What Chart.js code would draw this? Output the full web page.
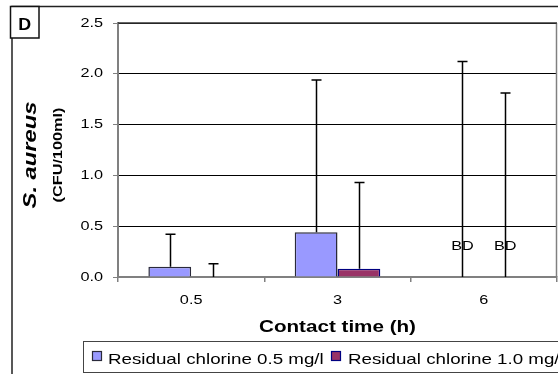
<!DOCTYPE html>
<html>
<head>
<meta charset="utf-8">
<script src="https://cdn.jsdelivr.net/npm/chart.js@4/dist/chart.umd.min.js"></script>
<style>
  html, body { margin: 0; padding: 0; background: #fff; }
  canvas { display: block; }
</style>
</head>
<body>
<canvas id="chart" width="558" height="374"></canvas>
<script>
// Contact time categories (hours)
const contactTimes = ['0.5', '3', '6'];

// Series names
const seriesNames = ['Residual chlorine 0.5 mg/l', 'Residual chlorine 1.0 mg/l'];

// Mean S. aureus counts (CFU/100ml)
const chlorine05Means = [0.10, 0.44, 0];
const chlorine10Means = [0, 0.08, 0];

// Upper error (standard deviation) for each mean
const chlorine05Errors = [0.32, 1.50, 2.12];
const chlorine10Errors = [0.13, 0.85, 1.81];

// Below detection flags
const chlorine05BD = [false, false, true];
const chlorine10BD = [false, false, true];

// Y axis ticks
const yTicks = [0, 0.5, 1.0, 1.5, 2.0, 2.5];

const FONT = "'Liberation Sans', Arial, Helvetica, sans-serif";
const TEXT_STRETCH = 1.25;   // glyphs are drawn wide along their baseline

const fillColors = ['#9999FF', '#993366'];
const borderColors = ['#2a2a3a', '#000080'];

// Widen every glyph run along its own baseline
const wideText = {
  id: 'wideText',
  beforeInit(chart) {
    const ctx = chart.ctx;
    const orig = ctx.fillText.bind(ctx);
    ctx.fillText = function (text, x, y, maxWidth) {
      ctx.save();
      ctx.translate(x, y);
      ctx.scale(TEXT_STRETCH, 1);
      orig(text, 0, 0);
      ctx.restore();
    };
  }
};

// White page with the outer frame lines
const pageFrame = {
  id: 'pageFrame',
  beforeDraw(chart) {
    const ctx = chart.ctx;
    ctx.save();
    ctx.fillStyle = '#fff';
    ctx.fillRect(0, 0, chart.width, chart.height);
    ctx.strokeStyle = '#222';
    ctx.lineWidth = 1.5;
    ctx.beginPath();
    ctx.moveTo(chart.width + 2, 6.5);
    ctx.lineTo(12, 6.5);
    ctx.lineTo(12, chart.height + 2);
    ctx.stroke();
    ctx.restore();
  }
};

// Error bars and "BD" labels on top of the bars
const errorBars = {
  id: 'errorBars',
  afterDatasetsDraw(chart) {
    const ctx = chart.ctx;
    const yScale = chart.scales.y;
    const errs = [chlorine05Errors, chlorine10Errors];
    const bds = [chlorine05BD, chlorine10BD];
    ctx.save();
    chart.data.datasets.forEach((ds, i) => {
      const meta = chart.getDatasetMeta(i);
      meta.data.forEach((bar, j) => {
        const mean = ds.data[j];
        const yBase = yScale.getPixelForValue(mean);
        if (bds[i][j]) {
          ctx.fillStyle = '#000';
          ctx.font = '13px ' + FONT;
          ctx.textAlign = 'center';
          ctx.textBaseline = 'middle';
          ctx.fillText('BD', bar.x, yBase - 31);
        }
        const yTop = yScale.getPixelForValue(mean + errs[i][j]);
        const x = Math.round(bar.x) + 0.5;
        ctx.strokeStyle = '#000';
        ctx.lineWidth = 1.5;
        ctx.beginPath();
        ctx.moveTo(x, yBase);
        ctx.lineTo(x, yTop);
        ctx.moveTo(x - 5, yTop);
        ctx.lineTo(x + 5, yTop);
        ctx.stroke();
      });
    });
    ctx.restore();
  }
};

// Plot border, y title, legend and panel letter
const decorations = {
  id: 'decorations',
  afterDraw(chart) {
    const ctx = chart.ctx;
    const a = chart.chartArea;
    ctx.save();

    // right edge of the plot area
    ctx.strokeStyle = '#808080';
    ctx.lineWidth = 1.5;
    ctx.beginPath();
    ctx.moveTo(a.right - 0.5, a.top);
    ctx.lineTo(a.right - 0.5, a.bottom);
    ctx.stroke();
    ctx.strokeStyle = '#333';
    ctx.beginPath();
    ctx.moveTo(a.left, a.top);
    ctx.lineTo(a.right, a.top);
    ctx.stroke();

    // y axis title in two lines
    const cy = (a.top + a.bottom) / 2 + 5;
    ctx.fillStyle = '#000';
    ctx.textAlign = 'center';
    ctx.textBaseline = 'alphabetic';
    ctx.save();
    ctx.translate(35.5, cy);
    ctx.rotate(-Math.PI / 2);
    ctx.font = 'italic bold 19px ' + FONT;
    ctx.fillText('S. aureus', 0, 0);
    ctx.restore();
    ctx.save();
    ctx.translate(62, cy);
    ctx.rotate(-Math.PI / 2);
    ctx.font = 'bold 13px ' + FONT;
    ctx.fillText('(CFU/100ml)', 0, 0);
    ctx.restore();

    // legend box
    ctx.strokeStyle = '#444';
    ctx.lineWidth = 1;
    ctx.fillStyle = '#fff';
    ctx.fillRect(83.5, 341.5, 520, 31);
    ctx.strokeRect(83.5, 341.5, 520, 31);
    const legendX = [92, 331];
    const textX = [108, 348];
    ctx.font = '15px ' + FONT;
    ctx.textAlign = 'left';
    ctx.textBaseline = 'alphabetic';
    seriesNames.forEach((name, i) => {
      ctx.fillStyle = fillColors[i];
      ctx.fillRect(legendX[i], 351.5, 9, 9);
      ctx.strokeStyle = borderColors[i];
      ctx.lineWidth = 1.2;
      ctx.strokeRect(legendX[i] + 0.5, 351.5, 9, 9);
      ctx.fillStyle = '#000';
      ctx.fillText(name, textX[i], 364);
    });

    // panel letter
    ctx.fillStyle = '#fff';
    ctx.fillRect(10, 6, 29, 32);
    ctx.strokeStyle = '#111';
    ctx.lineWidth = 1.5;
    ctx.strokeRect(10.5, 6.5, 28.5, 31.5);
    ctx.fillStyle = '#000';
    ctx.font = 'bold 17px ' + FONT;
    ctx.textAlign = 'center';
    ctx.textBaseline = 'alphabetic';
    ctx.save();
    ctx.translate(24.7, 29.5);
    ctx.scale(1 / TEXT_STRETCH * 1.05, 1);
    ctx.fillText('D', 0, 0);
    ctx.restore();

    ctx.restore();
  }
};

new Chart(document.getElementById('chart'), {
  type: 'bar',
  data: {
    labels: contactTimes,
    datasets: [
      {
        label: seriesNames[0],
        data: chlorine05Means,
        backgroundColor: fillColors[0],
        borderColor: borderColors[0],
        borderWidth: 1.5,
        categoryPercentage: 0.585,
        barPercentage: 1.0
      },
      {
        label: seriesNames[1],
        data: chlorine10Means,
        backgroundColor: fillColors[1],
        borderColor: borderColors[1],
        borderWidth: 1.5,
        categoryPercentage: 0.585,
        barPercentage: 1.0
      }
    ]
  },
  options: {
    responsive: false,
    animation: false,
    devicePixelRatio: 1,
    layout: { padding: { top: 23, right: 1, left: 0, bottom: 0 } },
    plugins: {
      legend: { display: false },
      tooltip: { enabled: false }
    },
    scales: {
      x: {
        offset: true,
        grid: {
          display: true,
          offset: true,
          drawOnChartArea: false,
          drawTicks: true,
          tickLength: 5,
          color: '#808080',
          lineWidth: 1.5
        },
        border: { display: true, color: '#808080', width: 2 },
        ticks: {
          color: '#000',
          font: { family: FONT, size: 13 },
          padding: 11,
          maxRotation: 0
        },
        title: {
          display: true,
          text: 'Contact time (h)',
          color: '#000',
          font: { family: FONT, size: 16.5, weight: 'bold' },
          padding: { top: 0, bottom: 37 }
        },
        afterFit(scale) { scale.height = 97; }
      },
      y: {
        min: 0,
        max: 2.5,
        afterBuildTicks(scale) {
          scale.ticks = yTicks.map(v => ({ value: v }));
        },
        grid: {
          color: ctx => (ctx.tick && ctx.tick.value === 0 ? 'rgba(0,0,0,0)' : '#000'),
          tickColor: '#808080',
          lineWidth: 1,
          tickLength: 5,
          drawTicks: true
        },
        border: { display: true, color: '#808080', width: 2 },
        ticks: {
          color: '#000',
          font: { family: FONT, size: 13 },
          padding: 10,
          callback: v => Number(v).toFixed(1)
        },
        afterFit(scale) { scale.width = 118; }
      }
    }
  },
  plugins: [wideText, pageFrame, errorBars, decorations]
});
</script>
</body>
</html>
